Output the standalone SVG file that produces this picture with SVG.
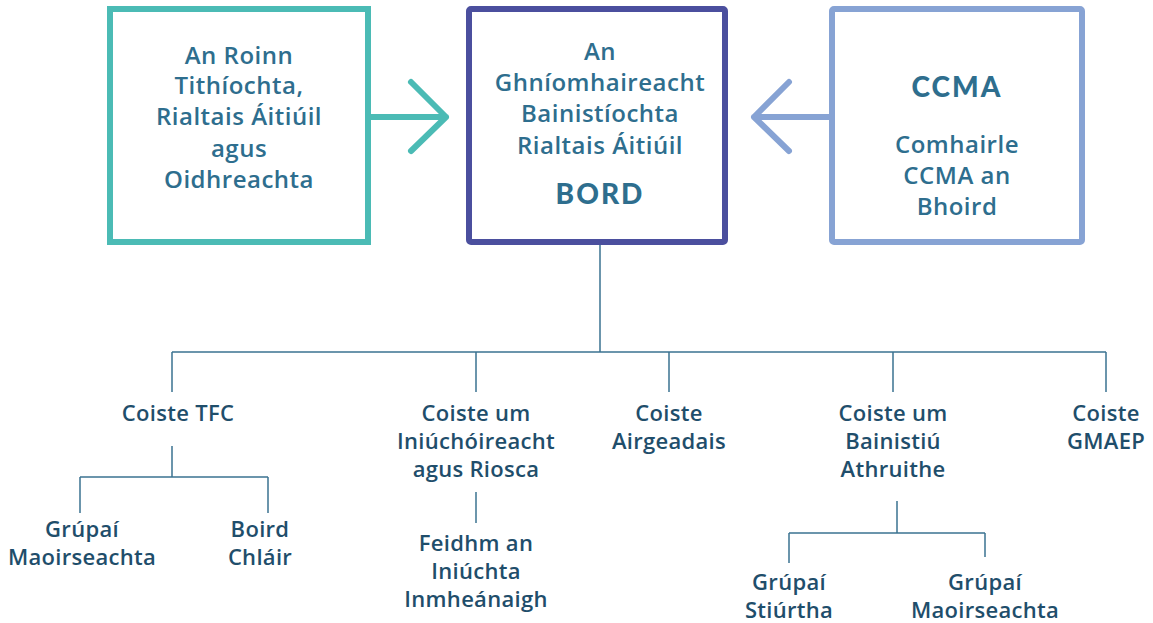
<svg xmlns="http://www.w3.org/2000/svg" width="1153" height="623" viewBox="0 0 1153 623">
<style>
.t{font-family:"Open Sans",Lato,"Liberation Sans",sans-serif;font-size:24px;fill:#2E6E8E;text-anchor:middle;font-weight:600;letter-spacing:0.5px}
.b{font-family:Lato,"Open Sans","Liberation Sans",sans-serif;font-size:28px;fill:#2E6E8E;text-anchor:middle;font-weight:900;letter-spacing:2px}
.s{font-family:"Open Sans",Lato,"Liberation Sans",sans-serif;font-size:22px;fill:#1F4E6B;text-anchor:middle;font-weight:600;letter-spacing:0.3px}
.c{fill:none;stroke:#3B7391;stroke-width:1.5}
</style>
<rect width="1153" height="623" fill="#fff"/>
<g id="connectors">
<path class="c" d="M600 245V352M172 352H1106M172 352V392M476 352V392M669 352V392M893 352V392M1106 352V392"/>
<path class="c" d="M172 446V477M80 477H268M80 477V513M268 477V513"/>
<path class="c" d="M476 492V523"/>
<path class="c" d="M897 501V533M789 533H985M789 533V563M985 533V557"/>
<path d="M371 117H446M411 82L446 117L411 151" fill="none" stroke="#4BBBB5" stroke-width="6" stroke-linecap="round" stroke-linejoin="round"/>
<path d="M829 117H754M789 82L754 117L789 151" fill="none" stroke="#87A3D4" stroke-width="6" stroke-linecap="round" stroke-linejoin="round"/>
</g>
<g id="roinn">
<rect x="110" y="9" width="258" height="233" fill="none" stroke="#4BBBB5" stroke-width="6"/>
<text class="t" x="239" y="64">An Roinn</text>
<text class="t" x="239" y="94">Tithíochta,</text>
<text class="t" x="239" y="125">Rialtais Áitiúil</text>
<text class="t" x="239" y="157">agus</text>
<text class="t" x="239" y="188">Oidhreachta</text>
</g>
<g id="bord">
<rect x="469" y="9" width="256" height="233" rx="2" fill="none" stroke="#4B4F9E" stroke-width="6"/>
<text class="t" x="600" y="60">An</text>
<text class="t" x="600" y="91">Ghníomhaireacht</text>
<text class="t" x="600" y="122">Bainistíochta</text>
<text class="t" x="600" y="154">Rialtais Áitiúil</text>
<text class="b" x="600" y="204">BORD</text>
</g>
<g id="ccma">
<rect x="832" y="9" width="250" height="233" rx="2" fill="none" stroke="#87A3D4" stroke-width="6"/>
<text class="b" x="957" y="97">CCMA</text>
<text class="t" x="957" y="153">Comhairle</text>
<text class="t" x="957" y="184">CCMA an</text>
<text class="t" x="957" y="215">Bhoird</text>
</g>
<g id="tfc"><text class="s" x="178" y="421">Coiste TFC</text></g>
<g id="grupai1"><text class="s" x="82" y="537">Grúpaí</text><text class="s" x="82" y="565">Maoirseachta</text></g>
<g id="boird"><text class="s" x="260" y="537">Boird</text><text class="s" x="260" y="565">Chláir</text></g>
<g id="iniuch"><text class="s" x="476" y="421">Coiste um</text><text class="s" x="476" y="449">Iniúchóireacht</text><text class="s" x="476" y="477">agus Riosca</text></g>
<g id="feidhm"><text class="s" x="476" y="551">Feidhm an</text><text class="s" x="476" y="579">Iniúchta</text><text class="s" x="476" y="607">Inmheánaigh</text></g>
<g id="airgead"><text class="s" x="669" y="421">Coiste</text><text class="s" x="669" y="449">Airgeadais</text></g>
<g id="athru"><text class="s" x="893" y="421">Coiste um</text><text class="s" x="893" y="449">Bainistiú</text><text class="s" x="893" y="477">Athruithe</text></g>
<g id="stiur"><text class="s" x="789" y="590">Grúpaí</text><text class="s" x="789" y="618">Stiúrtha</text></g>
<g id="grupai2"><text class="s" x="985" y="590">Grúpaí</text><text class="s" x="985" y="618">Maoirseachta</text></g>
<g id="gmaep"><text class="s" x="1106" y="421">Coiste</text><text class="s" x="1106" y="449">GMAEP</text></g>
</svg>
